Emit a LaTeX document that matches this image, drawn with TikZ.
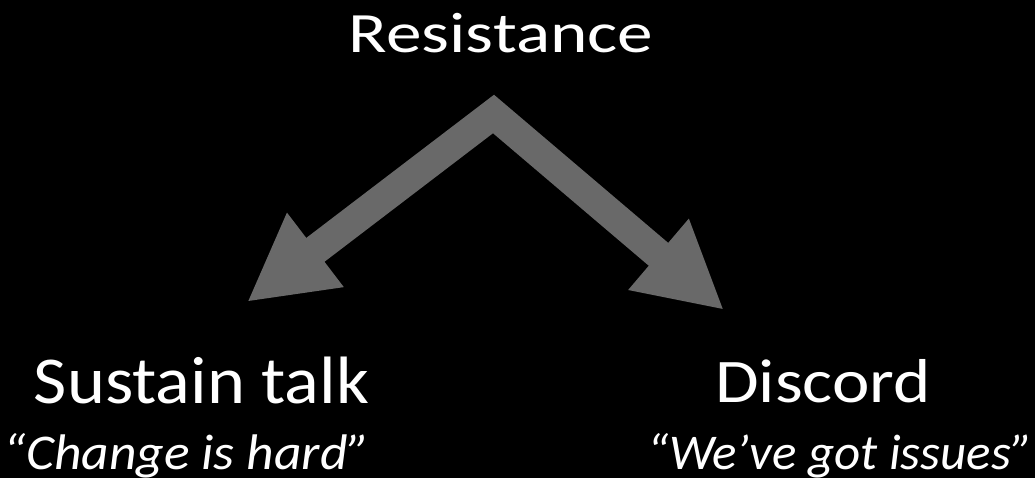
\documentclass[tikz,border=0pt]{standalone}
\usepackage{fontspec}
\setmainfont{Carlito}
\usetikzlibrary{arrows.meta,positioning}
\definecolor{arrowgray}{RGB}{105,105,105}

\begin{document}
\begin{tikzpicture}[x=1pt,y=-1pt,
    lbl/.style={text=white,inner sep=0pt,anchor=base},
    headfont/.style={font=\fontsize{57}{60}\selectfont,xscale=1.25},
    kindfont/.style={font=\fontsize{67}{70}\selectfont,xscale=1.08},
    quotefont/.style={font=\fontsize{50}{54}\selectfont\itshape},
    resarrow/.style={draw=arrowgray,line width=30pt,line join=miter,
      {Triangle[length=86pt,width=87pt]}-{Triangle[length=86pt,width=87pt]}}]
 \fill[black] (0,0) rectangle (1035,478);
 \useasboundingbox (0,0) rectangle (1035,478);
 \node[lbl,headfont] (RES) at (501,53) {Resistance};
 \node[lbl,kindfont] (SUS) at (201.5,403) {Sustain talk};
 \node[lbl,kindfont,font=\fontsize{62}{66}\selectfont,xscale=1.06] (DIS) at (823,402) {Discord};
 \node[lbl,quotefont,xscale=1.07] (SUSQ) at (187,469) {“Change is hard”};
 \node[lbl,quotefont,xscale=1.02] (DISQ) at (840,469) {“We’ve got issues”};
 \coordinate (apex) at (493.5,114);
 \coordinate (stip) at (247,302);
 \coordinate (dtip) at (724,310);
 \draw[resarrow] (stip) -- (apex) -- (dtip);
\end{tikzpicture}
\end{document}
